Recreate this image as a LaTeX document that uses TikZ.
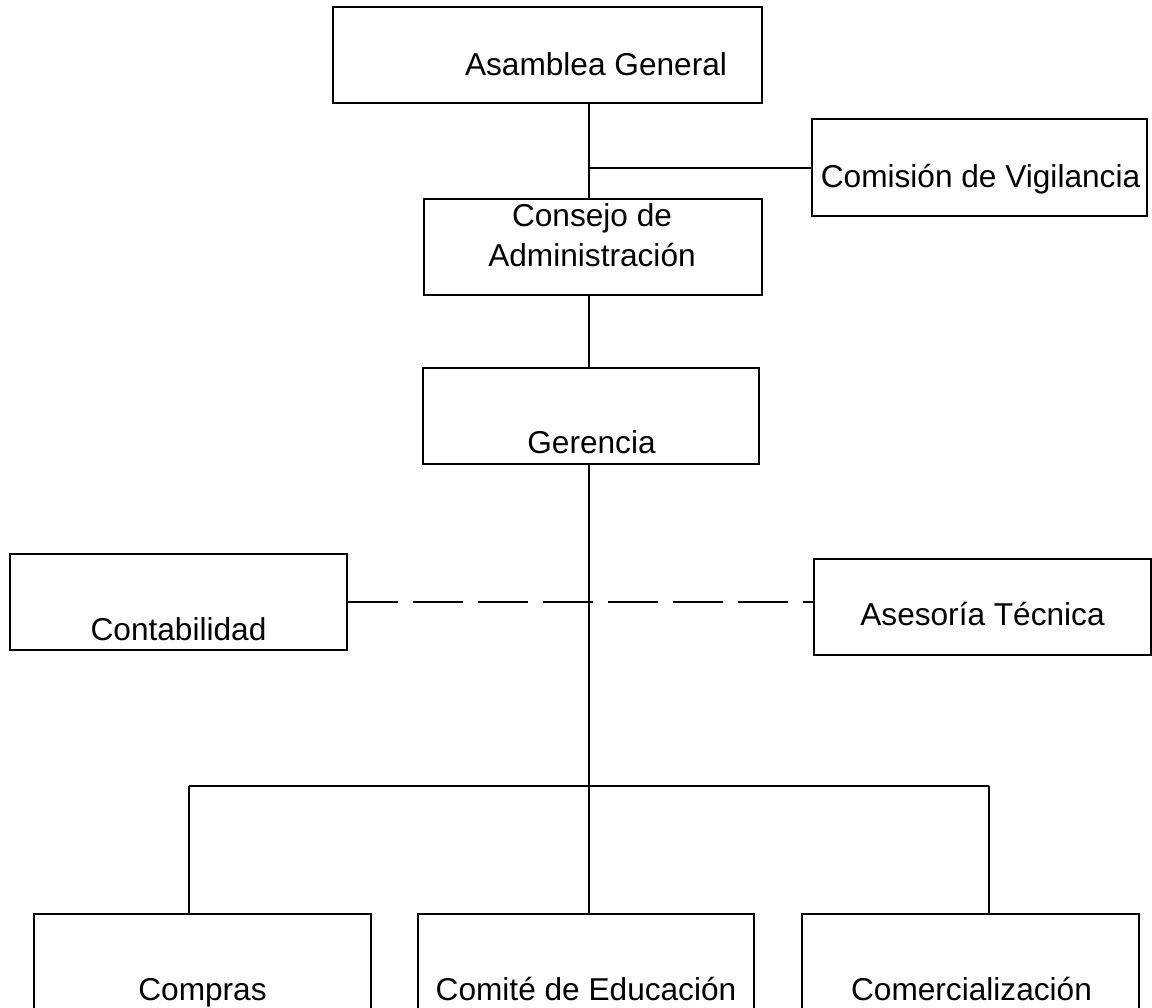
\documentclass[tikz,border=0pt]{standalone}
\usepackage{fontspec}
\setmainfont{Liberation Sans}
\newlength\px
\setlength\px{0.02cm}
\tikzset{
    unit/.style={draw=black, line width=1.1pt, inner sep=0pt, minimum width=337\px, minimum height=96\px},
    lbl/.style={anchor=base, inner sep=0pt, font=\fontsize{18}{22.5}\selectfont},
    link/.style={draw=black, line width=1.1pt},
}
\begin{document}
\begin{tikzpicture}[x=0.02cm,y=-0.02cm]
    \useasboundingbox (0,0) rectangle (1152,1007);

    % boxes
    \node[unit, minimum width=429\px] at (547.5,55) (asamblea) {};
    \node[unit, minimum width=335\px, minimum height=97\px] at (979.5,167.5) (comision) {};
    \node[unit, minimum width=338\px] at (593,247) (consejo) {};
    \node[unit, minimum width=336\px] at (591,416) (gerencia) {};
    \node[unit] at (178.5,602) (contab) {};
    \node[unit] at (982.5,607) (asesoria) {};
    \node[unit] at (202.5,962) (compras) {};
    \node[unit, minimum width=336\px] at (586,962) (comite) {};
    \node[unit] at (970.5,962) (comercial) {};

    % texts
    \node[lbl] at (596,75) (t1) {Asamblea General};
    \node[lbl] at (980.5,187) (t2) {Comisión de Vigilancia};
    \node[lbl, anchor=center, align=center] at (592,235) (t3) {Consejo de\\Administración};
    \node[lbl] at (591.5,453) (t4) {Gerencia};
    \node[lbl] at (178.5,640) (t5) {Contabilidad};
    \node[lbl] at (982.5,625) (t6) {Asesoría Técnica};
    \node[lbl] at (202.5,1000) (t7) {Compras};
    \node[lbl] at (586,1000) (t8) {Comité de Educación};
    \node[lbl] at (971.5,1000) (t9) {Comercialización};

    % trunk and branches
    \coordinate (v) at (589,168);
    \coordinate (d1) at (189,786);
    \coordinate (d2) at (589,786);
    \coordinate (d3) at (989,786);

    \path[link] (asamblea.south -| v) -- (consejo.north -| v);
    \path[link] (v) -- (comision.west |- v);
    \path[link] (consejo.south -| v) -- (gerencia.north -| v);
    \path[link] (gerencia.south -| v) -- (d2);
    \path[link, dash pattern=on 1cm off 0.3cm] (contab.east) -- (contab.east -| asesoria.west);

    \path[link] (d1) -- (d3);
    \path[link] (d1) -- (d1 |- compras.north);
    \path[link] (d2) -- (d2 |- comite.north);
    \path[link] (d3) -- (d3 |- comercial.north);
\end{tikzpicture}
\end{document}
